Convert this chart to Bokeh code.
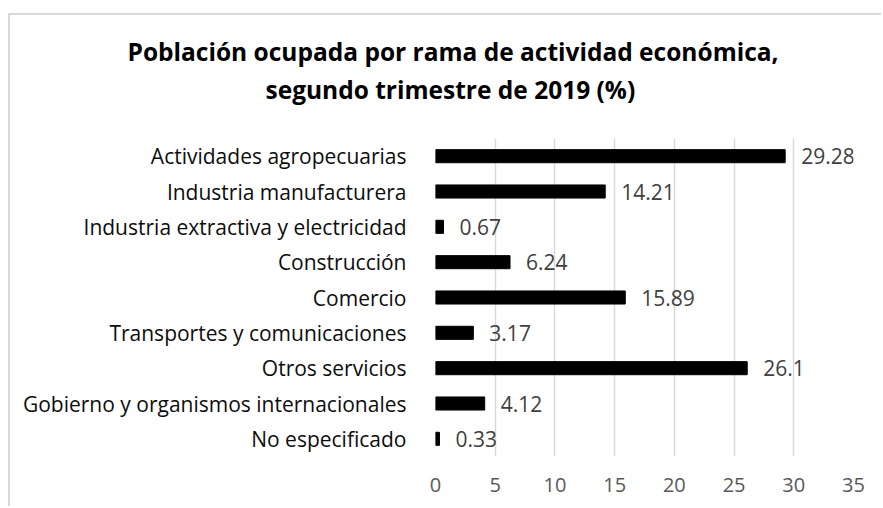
from bokeh.plotting import figure
from bokeh.models import ColumnDataSource, Title, FixedTicker, LabelSet
from bokeh.core.properties import value
from bokeh.embed import file_html
from bokeh.resources import INLINE

title_lines = ["Población ocupada por rama de actividad económica,",
               "segundo trimestre de 2019 (%)"]
categories = [
    "Actividades agropecuarias",
    "Industria manufacturera",
    "Industria extractiva y electricidad",
    "Construcción",
    "Comercio",
    "Transportes y comunicaciones",
    "Otros servicios",
    "Gobierno y organismos internacionales",
    "No especificado",
]
values = [29.28, 14.21, 0.67, 6.24, 15.89, 3.17, 26.1, 4.12, 0.33]
value_labels = ["29.28", "14.21", "0.67", "6.24", "15.89", "3.17", "26.1", "4.12", "0.33"]
x_ticks = [0, 5, 10, 15, 20, 25, 30, 35]

FONT = "Open Sans"

src = ColumnDataSource(dict(cat=categories, val=values, lab=value_labels))

p = figure(
    width=873, height=493,
    y_range=list(reversed(categories)),
    x_range=(0, 35),
    output_backend="svg", toolbar_location=None,
    min_border_left=425, min_border_right=30,
    min_border_top=123, min_border_bottom=52,
)
p.styles = {
    "margin-left": "8px", "margin-top": "13px",
    "border-left": "2px solid #d9d9d9", "border-top": "2px solid #d9d9d9",
}

p.hbar(y="cat", right="val", left=0, height=0.37, source=src, color="#000000")

labels = LabelSet(x="val", y="cat", text="lab", source=src, x_offset=16,
                  text_baseline="middle", text_align="left",
                  text_color="#404040", text_font_size="21px", text_font=value(FONT))
p.add_layout(labels)

p.title.visible = False
t2 = Title(text=title_lines[1], align="left", offset=-170,
           text_font=FONT, text_font_size="24.5px", text_font_style="bold",
           text_color="#000000", standoff=66)
t1 = Title(text=title_lines[0], align="left", offset=-308,
           text_font=FONT, text_font_size="24.5px", text_font_style="bold",
           text_color="#000000", standoff=-60)
p.add_layout(t2, "above")
p.add_layout(t1, "above")

p.xaxis.ticker = FixedTicker(ticks=x_ticks)
p.xaxis.axis_line_color = None
p.xaxis.major_tick_line_color = None
p.xaxis.minor_tick_line_color = None
p.xaxis.major_label_text_font = FONT
p.xaxis.major_label_text_font_size = "20px"
p.xaxis.major_label_text_color = "#595959"
p.xaxis.major_label_standoff = 15

p.yaxis.axis_line_color = None
p.yaxis.major_tick_line_color = None
p.yaxis.major_label_text_font = FONT
p.yaxis.major_label_text_font_size = "21px"
p.yaxis.major_label_text_color = "#0d0d0d"
p.yaxis.major_label_standoff = 23

p.ygrid.grid_line_color = None
p.xgrid.grid_line_color = "#d9d9d9"
p.xgrid.grid_line_width = 1.5
p.outline_line_color = None

open("out.html", "w").write(file_html(p, INLINE))
